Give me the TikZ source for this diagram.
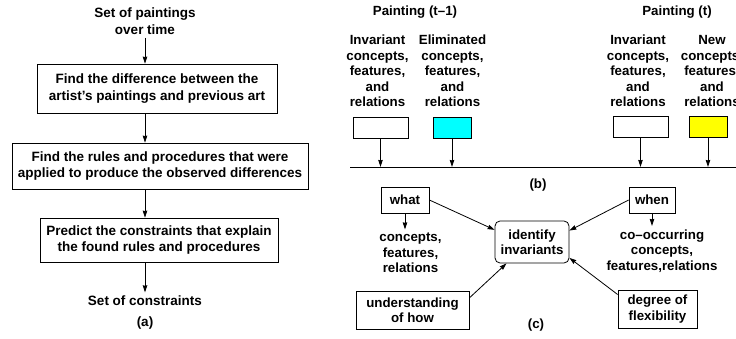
\documentclass[tikz,border=0pt]{standalone}
\usepackage{fontspec}
\setmainfont{Liberation Sans}
\usetikzlibrary{positioning,arrows.meta}
\definecolor{elimfill}{RGB}{0,255,255}
\definecolor{newfill}{RGB}{255,255,0}

\begin{document}
\begin{tikzpicture}[x=1pt,y=-1pt,line width=0.8pt,
	every node/.style={font=\bfseries\fontsize{13.5}{16.5}\selectfont,align=center},
	col/.style={font=\bfseries\fontsize{13.3}{15.5}\selectfont},
	box/.style={draw,inner sep=0pt},
	arr/.style={-{Stealth[length=7pt,width=4.5pt,inset=0.5pt]}},
	tbox/.style={draw,inner sep=0pt,minimum width=55pt,minimum height=21pt},
	cbox/.style={draw,inner sep=0pt,minimum width=38pt,minimum height=21pt}]
	\useasboundingbox (0,0) rectangle (736,339);
	\node (paint) at (145,21) {Set of paintings\\over time};
	\node[box,minimum width=240pt,minimum height=49pt] (diff) at (157,88.5) {Find the difference between the\\artist's paintings and previous art};
	\node[box,minimum width=296pt,minimum height=46pt] (rules) at (160,166) {Find the rules and procedures that were\\applied to produce the observed differences};
	\node[box,minimum width=238pt,minimum height=44pt] (pred) at (159,240) {Predict the constraints that explain\\the found rules and procedures};
	\node (cons) at (145,301) {Set of constraints};
	\node (la) at (145,323) {(a)};
	\path[arr]
	(paint) edge (paint |- diff.north)
	(diff.south -| paint) edge (rules.north -| paint)
	(rules.south -| paint) edge (pred.north -| paint)
	(pred.south -| paint) edge (cons);

	\node[col] (pold) at (415,12) {Painting (t--1)};
	\node[col] (pnew) at (677,12) {Painting (t)};
	\node[col] (inv1) at (377.5,71) {Invariant\\concepts,\\features,\\and\\relations};
	\node[col] (elim) at (452.5,71) {Eliminated\\concepts,\\features,\\and\\relations};
	\node[col] (inv2) at (638,71) {Invariant\\concepts,\\features,\\and\\relations};
	\node[col] (new) at (712,71) {New\\concepts,\\features,\\and\\relations};
	\node[tbox] (w1) at (380.5,127.5) {};
	\node[cbox,fill=elimfill] (c1) at (452,127.5) {};
	\node[tbox] (w2) at (640.5,126.5) {};
	\node[cbox,fill=newfill] (y2) at (708,126.5) {};
	\coordinate (tl) at (350,167);
	\coordinate (tr) at (740,167);
	\draw (tl) -- (tr);
	\path[arr]
	(w1) edge (w1 |- tl)
	(c1) edge (c1 |- tl)
	(w2) edge (w2 |- tl)
	(y2) edge (y2 |- tl);
	\node[col] (lb) at (538,185) {(b)};

	\node[col,box,minimum width=48pt,minimum height=26pt] (what) at (405,200) {what};
	\node[col] (wtext) at (410.5,253) {concepts,\\features,\\relations};
	\node[col,box,rounded corners=5pt,minimum width=74pt,minimum height=42pt] (ident) at (532,242) {identify\\invariants};
	\node[col,box,minimum width=46pt,minimum height=26pt] (when) at (652,200) {when};
	\node[col] (wntext) at (662,251) {co--occurring\\concepts,\\features,relations};
	\node[col,box,minimum width=113pt,minimum height=38pt] (how) at (412.5,310) {understanding\\of how};
	\node[col,box,minimum width=79pt,minimum height=38pt] (flex) at (657.5,309) {degree of\\flexibility};
	\node[col] (lc) at (536,325) {(c)};
	\path[arr]
	(what.east) edge (ident.162)
	(when.west) edge (ident.17)
	(how.12) edge (ident.220)
	(flex.160) edge (ident.337)
	(what.south) edge (what.south |- wtext.north)
	(when.south) edge (when.south |- wntext.north);
\end{tikzpicture}
\end{document}
